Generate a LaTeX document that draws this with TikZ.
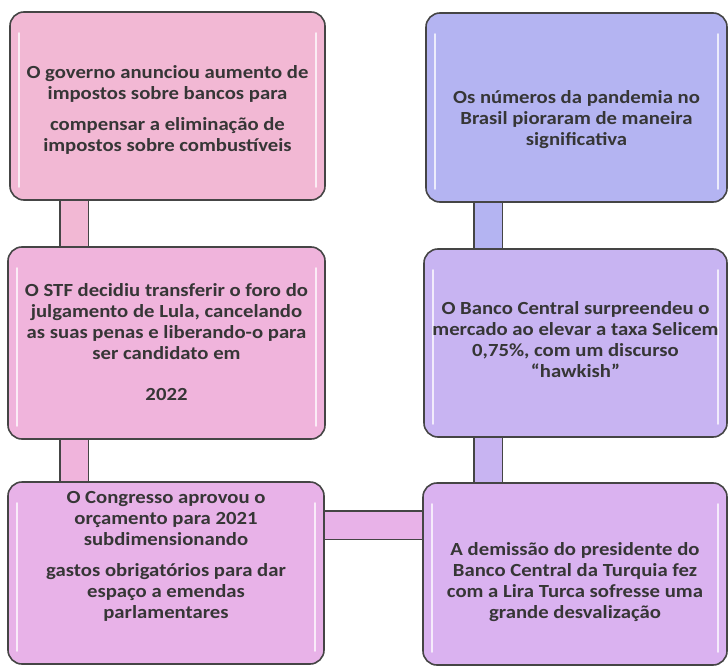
\documentclass[tikz,border=0pt]{standalone}
\usepackage{fontspec}
\setmainfont{Carlito}[FakeStretch=1.12]
\usetikzlibrary{backgrounds}
\definecolor{edgec}{HTML}{454545}
\definecolor{textc}{HTML}{363636}
\definecolor{cA}{HTML}{F2B8D4}
\definecolor{cB}{HTML}{B4B4F2}
\definecolor{cC}{HTML}{F0B4DC}
\definecolor{cD}{HTML}{C8B4F2}
\definecolor{cE}{HTML}{E8B2E8}
\definecolor{cF}{HTML}{DAB2F0}
\begin{document}
\begin{tikzpicture}[x=1pt,y=-1pt,
  box/.style={draw=edgec, line width=1.6pt, rounded corners=14pt, inner sep=0pt},
  txt/.style={font=\bfseries\fontsize{18.5}{21}\selectfont, text=textc, align=center, inner sep=0pt},
  bar/.style={draw=edgec, line width=1.5pt, double distance=27pt},
  gloss/.style={white, line width=2.5pt, opacity=0.75, line cap=round}]
\useasboundingbox (0,0) rectangle (728,666);
% boxes
\node[box, fill=cA, minimum width=315pt, minimum height=188pt] (b1) at (167.5,106) {};
\node[box, fill=cB, minimum width=301pt, minimum height=189pt] (b2) at (576.5,107.5) {};
\node[box, fill=cC, minimum width=317pt, minimum height=192pt] (b3) at (166.5,343) {};
\node[box, fill=cD, minimum width=303pt, minimum height=188pt] (b4) at (575.5,343) {};
\node[box, fill=cE, minimum width=316pt, minimum height=182pt] (b5) at (166,573) {};
\node[box, fill=cF, minimum width=304pt, minimum height=182pt] (b6) at (575,574) {};
% gloss highlights
\foreach \b in {b1,b2,b3,b4,b5,b6}{
  \draw[gloss] ([xshift=10pt,yshift=-22pt]\b.north west) -- ([xshift=10pt,yshift=14pt]\b.south west);
  \draw[gloss] ([xshift=-10pt,yshift=-22pt]\b.north east) -- ([xshift=-10pt,yshift=14pt]\b.south east);
}
% connectors
\begin{scope}[on background layer]
\fill[white] (0,0) rectangle (728,666);
\draw[bar, double=cA] ([xshift=65pt]b1.south west) -- ([xshift=67pt]b3.north west);
\draw[bar, double=cC] ([xshift=67pt]b3.south west) -- ([xshift=67pt]b5.north west);
\draw[bar, double=cE] ([yshift=-44pt]b5.north east) -- ([yshift=-43pt]b6.north west);
\draw[bar, double=cB] ([xshift=63pt]b2.south west) -- ([xshift=65pt]b4.north west);
\draw[bar, double=cD] ([xshift=65pt]b4.south west) -- ([xshift=66pt]b6.north west);
\end{scope}
% texts
\node[txt] (t1) at ([yshift=-4pt]b1.center) {O governo anunciou aumento de\\impostos sobre bancos para\\[10pt]compensar a eliminação de\\impostos sobre combustíveis};
\node[txt] (t2) at ([yshift=-12pt]b2.center) {Os números da pandemia no\\Brasil pioraram de maneira\\significativa};
\node[txt] (t3) at ([yshift=1pt]b3.center) {O STF decidiu transferir o foro do\\julgamento de Lula, cancelando\\as suas penas e liberando-o para\\ser candidato em\\[20pt]2022};
\node[txt] (t4) at ([yshift=3pt]b4.center) {O Banco Central surpreendeu o\\mercado ao elevar a taxa Selicem\\0,75\%, com um discurso\\“hawkish”};
\node[txt] (t5) at ([yshift=17pt]b5.center) {O Congresso aprovou o\\orçamento para 2021\\subdimensionando\\[10pt]gastos obrigatórios para dar\\espaço a emendas\\parlamentares};
\node[txt] (t6) at ([yshift=-8pt]b6.center) {A demissão do presidente do\\Banco Central da Turquia fez\\com a Lira Turca sofresse uma\\grande desvalização};
\end{tikzpicture}
\end{document}
